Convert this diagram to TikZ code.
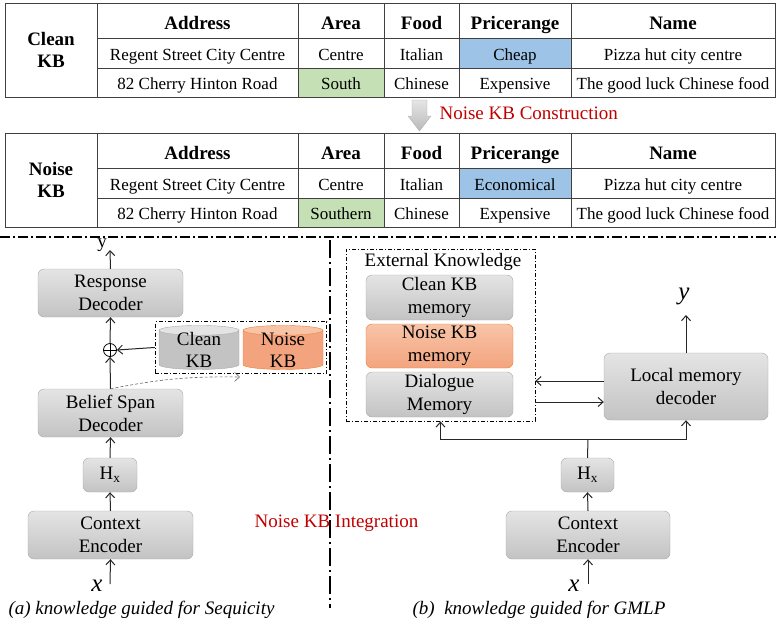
\documentclass[tikz,border=0pt]{standalone}
\usepackage{fontspec}
\setmainfont{Liberation Serif}
\usepackage{tikz}
\usetikzlibrary{arrows.meta, shapes.geometric, fit}

\definecolor{cellblue}{HTML}{9DC3E6}
\definecolor{cellgreen}{HTML}{C5E0B4}
\definecolor{noisered}{HTML}{C00000}
\definecolor{grayedge}{HTML}{A9A9A9}
\definecolor{graytop}{HTML}{E4E4E4}
\definecolor{graybot}{HTML}{C3C3C3}
\definecolor{orangeedge}{HTML}{ED7D31}
\definecolor{orangetop}{HTML}{F8C4A8}
\definecolor{orangebot}{HTML}{F3A47E}

\newcommand{\dbtext}[1]{\smash{\raisebox{-6pt}{\begin{tabular}{@{}c@{}}#1\end{tabular}}}}

\tikzset{
  block/.style={rectangle, rounded corners=6pt, draw=grayedge, top color=graytop, bottom color=graybot, align=center, inner sep=0pt},
  noiseblock/.style={block, draw=orangeedge, top color=orangetop, bottom color=orangebot},
  kbdb/.style={cylinder, shape border rotate=90, aspect=0.22, draw=grayedge, cylinder uses custom fill, cylinder body fill=graybot, cylinder end fill=graytop, inner sep=0pt, minimum width=80, minimum height=44, font=\fontsize{19}{22}\selectfont},
  tabline/.style={draw=black!75, line width=1pt},
  tabcell/.style={font=\fontsize{17}{20}\selectfont, anchor=base},
  tabhead/.style={font=\fontsize{19}{22}\selectfont\bfseries, align=center},
  varlab/.style={font=\fontsize{25}{25}\selectfont\itshape},
  splitline/.style={line width=1.8pt, dash pattern=on 10pt off 3pt on 2pt off 3pt},
  dashbox/.style={draw, line width=0.8pt, dash pattern=on 4pt off 2pt on 1pt off 2pt},
  arrowline/.style={->, line width=1pt, draw=black!85},
}

\begin{document}
\begin{tikzpicture}[x=1pt, y=-1pt, >={Straight Barb[length=5pt, width=9pt]}, font=\fontsize{19}{23}\selectfont]
  \useasboundingbox (0,0) rectangle (776,627);

  % KB tables
  \foreach \tab/\lab/\ty/\area/\price in {clean/Clean/3/South/Cheap, noise/Noise/133/Southern/Economical}{
    \fill[cellgreen] (298,\ty+65) rectangle (384,\ty+94);
    \fill[cellblue] (459,\ty+35) rectangle (571,\ty+65);
    \draw[tabline] (5,\ty) rectangle (775,\ty+94);
    \draw[tabline] (97,\ty+35) -- (775,\ty+35) (97,\ty+65) -- (775,\ty+65);
    \foreach \cx in {97,298,384,459,571}
      \draw[tabline] (\cx,\ty) -- (\cx,\ty+94);
    \node[tabhead] (\tab-kb) at (51,\ty+47) {\lab\\KB};
    \foreach \cx/\head [count=\i] in {197.5/Address, 341/Area, 421.5/Food, 515/Pricerange, 673/Name}
      \node[tabhead, anchor=base] (\tab-h\i) at (\cx,\ty+26) {\head};
    \foreach \cx/\one/\two [count=\i] in {197.5/Regent Street City Centre/82 Cherry Hinton Road, 341/Centre/\area, 421.5/Italian/Chinese, 515/\price/Expensive, 673/Pizza hut city centre/The good luck Chinese food}{
      \node[tabcell] (\tab-r1c\i) at (\cx,\ty+57) {\one};
      \node[tabcell] (\tab-r2c\i) at (\cx,\ty+86) {\two};
    }
  }
  \shade[top color=gray!20, bottom color=gray!55, draw=gray!60] (412,100) -- (427,100) -- (427,116) -- (431,116) -- (419.5,131) -- (408,116) -- (412,116) -- cycle;
  \node[text=noisered, anchor=west] (constr) at (436,113) {Noise KB Construction};

  % separators
  \draw[splitline] (0,237) -- (776,237);
  \draw[splitline, line width=1.5pt, dash pattern=on 18pt off 4pt on 2pt off 4pt] (330,240) -- (330,608);

  % (a) Sequicity
  \node[block, minimum width=145, minimum height=48] (resp) at (110.5,293) {Response\\Decoder};
  \node[circle, draw, line width=0.8pt, minimum size=13, inner sep=0pt,
        path picture={\draw (path picture bounding box.north) -- (path picture bounding box.south)
                            (path picture bounding box.west) -- (path picture bounding box.east);}] (plus) at (110,350) {};
  \node[block, minimum width=145, minimum height=48] (belief) at (110.5,413) {Belief Span\\Decoder};
  \node[block, minimum width=54, minimum height=34] (hxa) at (110,475) {H\textsubscript{x}};
  \node[block, minimum width=165, minimum height=48] (ctxa) at (110.5,535) {Context\\Encoder};
  \node[kbdb] (cleankb) at (199,350) {\dbtext{Clean\\KB}};
  \node[kbdb, draw=orangeedge, cylinder body fill=orangebot, cylinder end fill=orangetop] (noisekb) at (283,350) {\dbtext{Noise\\KB}};
  \node[dashbox, fit=(cleankb)(noisekb), inner sep=3.5pt] (kbs) {};
  \coordinate (ya) at (110,250);
  \coordinate (xa) at (110,584);
  \coordinate (kbin) at (240,377);
  \node (ylaba) at (102,245) {y};
  \node[varlab] (xlaba) at (97,586) {x};

  \draw[arrowline] (xa) -- (ctxa.south);
  \draw[arrowline] (ctxa.north) -- (hxa.south);
  \draw[arrowline] (hxa.north) -- (belief.south);
  \draw[arrowline] (belief.north) -- (plus.south);
  \draw[arrowline] (plus.north) -- (resp.south);
  \draw[arrowline] (resp.north) -- (ya);
  \draw[arrowline] (kbs.west) -- (plus.east);
  \draw[->, black!60, line width=0.6pt, densely dashed] (belief.north) to[bend left=6] (kbin);

  % (b) GMLP
  \node[dashbox, minimum width=189, minimum height=172] (ext) at (440.5,335) {};
  \node (exttitle) at (443,262) {External Knowledge};
  \node[block, minimum width=147, minimum height=45] (cleanmem) at (439.5,297.5) {Clean KB\\memory};
  \node[noiseblock, minimum width=147, minimum height=44] (noisemem) at (439.5,346) {Noise KB\\memory};
  \node[block, minimum width=147, minimum height=45] (dialmem) at (439.5,394.5) {Dialogue\\Memory};
  \node[block, minimum width=164, minimum height=67] (lmd) at (686,386.5) {Local memory\\decoder};
  \node[block, minimum width=53, minimum height=34] (hxb) at (587.5,475) {H\textsubscript{x}};
  \node[block, minimum width=164, minimum height=48] (ctxb) at (588,535) {Context\\Encoder};
  \coordinate (yb) at (686,315);
  \coordinate (xb) at (588,584);
  \coordinate (fork) at (588,439);
  \node[varlab] (ylabb) at (684,296) {y};
  \node[varlab] (xlabb) at (574,586) {x};

  \draw[arrowline] (xb) -- (ctxb.south);
  \draw[arrowline] (ctxb.north) -- (hxb.south);
  \draw[arrowline, -] (hxb.north) -- (fork);
  \draw[arrowline] (fork) -| (ext.south);
  \draw[arrowline] (fork) -| (lmd.south);
  \draw[arrowline] (lmd.north) -- (yb);
  \draw[arrowline] (lmd.west |- 0,381) -- (ext.east |- 0,381);
  \draw[arrowline] (ext.east |- 0,402) -- (lmd.west |- 0,402);

  % captions
  \node[text=noisered] (integ) at (336.5,523) {Noise KB Integration};
  \node[font=\fontsize{19}{23}\selectfont\itshape] (capa) at (141.5,610) {(a) knowledge guided for Sequicity};
  \node[font=\fontsize{19}{23}\selectfont\itshape] (capb) at (539,610) {(b)\ \ knowledge guided for GMLP};
\end{tikzpicture}
\end{document}
